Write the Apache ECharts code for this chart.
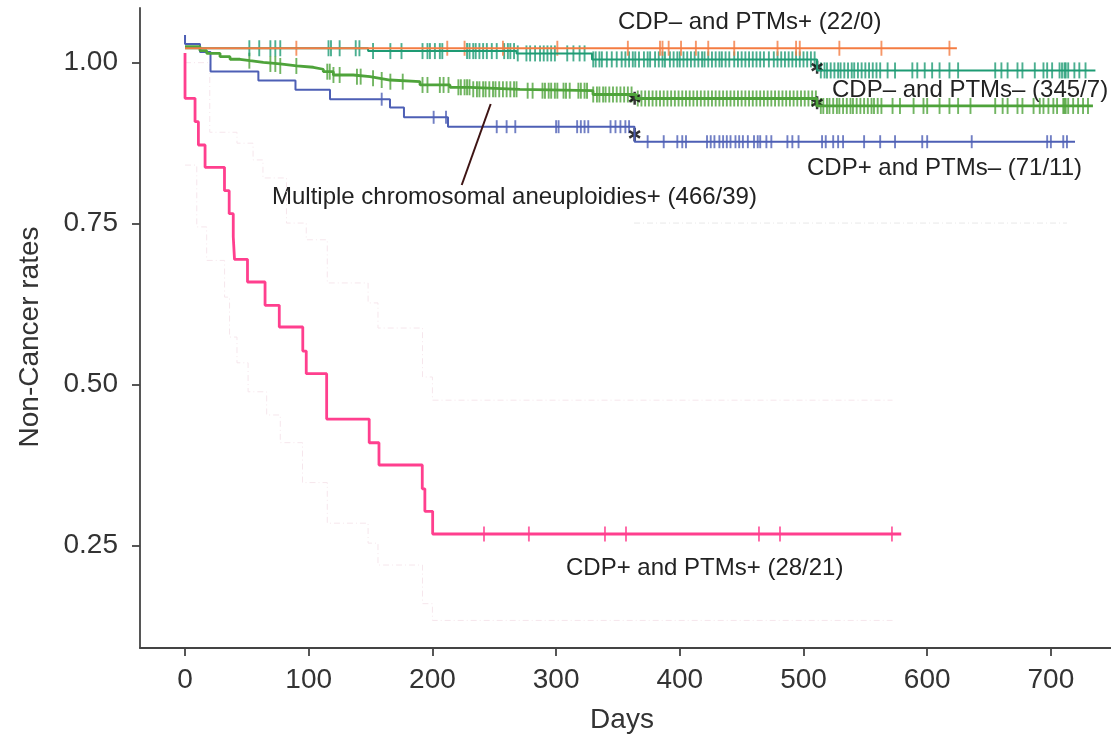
<!DOCTYPE html>
<html>
<head>
<meta charset="utf-8">
<title>Non-Cancer rates</title>
<script src="https://cdn.jsdelivr.net/npm/echarts@6/dist/echarts.min.js"></script>
<style>
  html, body { margin: 0; padding: 0; background: #fff; }
  #chart { width: 1111px; height: 739px; }
</style>
</head>
<body>
<div id="chart"></div>
<script>
// axis ticks
var dayTicks = [0, 100, 200, 300, 400, 500, 600, 700];
var rateTicks = [0.25, 0.5, 0.75, 1.0];

// Kaplan-Meier steps, [day, rate]; each rate holds from its day on
var pinkSteps = [[0, 1.0151], [0, 0.9447], [8.1, 0.9084], [10.8, 0.8722], [16.2, 0.8376], [31.9, 0.8012],
  [35.7, 0.7655], [39, 0.7298], [40, 0.6947], [50.5, 0.6595], [64.7, 0.6233], [76.2, 0.5896],
  [95.2, 0.5523], [98, 0.5171], [114.5, 0.4467], [148.9, 0.4099], [156.8, 0.3753], [191.8, 0.3384],
  [193.9, 0.3034], [200.2, 0.2682], [579, 0.2682]];
var blueSteps = [[0, 1.043], [0, 1.029], [12.1, 1.0166], [20.6, 0.9863], [59.3, 0.9724], [89.3, 0.9581],
  [117.2, 0.9433], [165.7, 0.9304], [177, 0.9152], [212.6, 0.9006], [363.4, 0.8773], [719.5, 0.8773]];
var greenSteps = [[0, 1.0248], [12.1, 1.0186], [17.5, 1.0146], [28.3, 1.0093], [36.4, 1.0053], [44.5, 1.0031],
  [52.5, 1.0006], [63.3, 0.998], [76.8, 0.9949], [90.3, 0.9929], [103.7, 0.9898], [111.8, 0.986],
  [119.9, 0.9809], [136, 0.9783], [149.6, 0.9758], [157.6, 0.9731], [165.7, 0.9705], [190, 0.9654],
  [214.2, 0.9618], [230.4, 0.9587], [270.8, 0.9565], [329.8, 0.9506], [364.6, 0.9444], [510.9, 0.9328],
  [734, 0.9328]];
var tealSteps = [[0, 1.0224], [148, 1.018], [268, 1.0144], [329, 1.0051], [511, 0.988], [736, 0.988]];
var orangeSteps = [[0, 1.0224], [624, 1.0224]];

// censored observations (days)
var pinkCensor = [241.7, 278, 339.5, 356.5, 464, 481, 571.5];
var blueCensor = [159, 201, 211, 252, 260, 267, 300, 302, 317, 320, 323, 326, 344, 348, 352, 356, 359, 374,
  387, 398, 402, 405, 422, 425, 428, 432, 435, 438, 441, 445, 448, 451, 455, 460, 463, 465, 470, 474, 487,
  491, 496, 515, 518, 524, 528, 532, 549, 562, 574, 596, 600, 636, 697, 700, 710, 713];
var orangeCensor = [90, 212, 226, 257, 301, 358, 384, 386, 391, 401, 413, 423, 444, 479, 494, 497, 529, 563, 618];
var tealCensor = [52, 60, 69, 73, 77, 116, 118, 125, 138, 141, 152, 166, 175, 192, 196, 198, 202, 206, 208,
  228, 230, 233, 235, 238, 241, 244, 248, 252, 258, 261, 263, 266, 269, 276, 279, 283, 287, 290, 293, 296,
  299, 309, 314, 319, 323, 330, 332, 335, 337, 341, 345, 349, 353, 356, 359, 362, 364, 367, 371, 374, 376,
  380, 383, 386, 388, 392, 395, 398, 400, 403, 406, 409, 412, 415, 418, 420, 423, 426, 429, 432, 434, 437,
  440, 444, 447, 450, 453, 456, 459, 462, 465, 468, 472, 476, 479, 482, 485, 488, 491, 494, 497, 500, 503,
  506, 509, 514, 517, 519, 522, 525, 528, 530, 533, 536, 539, 541, 544, 547, 550, 553, 556, 559, 562, 568,
  574, 588, 592, 598, 604, 610, 618, 625, 655, 660, 665, 673, 677, 687, 694, 697, 701, 707, 709, 711, 712,
  714, 719, 723, 728];
var greenCensor = [52, 69, 73, 77, 90, 115, 117, 120, 125, 139, 142, 152, 159, 166, 176, 192, 196, 206, 209,
  213, 221, 223, 226, 228, 230, 233, 236, 238, 241, 243, 246, 249, 251, 254, 257, 260, 263, 266, 268, 277,
  281, 289, 291, 294, 296, 299, 301, 306, 308, 311, 318, 320, 323, 325, 330, 333, 335, 338, 340, 343, 346,
  349, 352, 355, 358, 361, 366, 369, 372, 375, 378, 381, 384, 387, 390, 393, 396, 399, 402, 405, 408, 411,
  414, 417, 420, 423, 426, 429, 432, 435, 438, 441, 444, 447, 450, 453, 456, 459, 462, 465, 468, 471, 474,
  477, 480, 483, 486, 489, 492, 495, 498, 501, 504, 507, 510, 514, 516, 519, 521, 524, 527, 529, 532, 535,
  538, 540, 543, 546, 549, 552, 555, 557, 560, 563, 572, 578, 589, 597, 600, 610, 618, 625, 635, 655, 661,
  665, 673, 677, 686, 691, 694, 698, 702, 705, 710, 711, 712, 714, 718, 722, 726, 730];

// faint confidence bands
var pinkUpper = [[0, 1.0], [20, 0.892], [42, 0.875], [55, 0.849], [63, 0.821], [82, 0.751], [98, 0.725],
  [115, 0.658], [148, 0.627], [156, 0.588], [192, 0.512], [200, 0.476], [572, 0.476]];
var pinkLower = [[0, 0.841], [9.5, 0.745], [17.5, 0.693], [32, 0.636], [36, 0.574], [42, 0.534], [51, 0.489],
  [66, 0.453], [77, 0.41], [95, 0.348], [115, 0.285], [148, 0.254], [156, 0.22], [192, 0.16], [200, 0.134],
  [572, 0.134]];
var blueLower = [[363, 0.751], [713, 0.751]];

// asterisks at the marked steps, [day, rate]
var stars = [[511, 0.993], [363.5, 0.9447], [511, 0.9379], [363.5, 0.8885]];
// leader from the aneuploidies label to its curve
var leader = [[223.7, 0.8101], [247.1, 0.9359]];

var FONT = '"Liberation Sans", Arial, Helvetica, sans-serif';
var STAR = 'path://M-1.2,-6L1.2,-6L1.2,6L-1.2,6ZM4.596,-4.039L5.796,-1.961L-4.596,4.039L-5.796,1.961Z' +
  'M5.796,1.961L4.596,4.039L-5.796,-1.961L-4.596,-4.039Z';

function levelAt(steps, d) {
  var v = steps[0][1];
  for (var i = 0; i < steps.length; i++) {
    if (steps[i][0] <= d) v = steps[i][1];
  }
  return v;
}

function curve(steps, color, width) {
  return {
    type: 'line', step: 'end', data: steps, showSymbol: false, silent: true,
    lineStyle: { color: color, width: width }
  };
}

function censor(days, steps, color, h) {
  return {
    type: 'scatter', silent: true, symbol: 'rect', symbolSize: [1.9, h],
    itemStyle: { color: color },
    data: days.map(function (d) { return [d, levelAt(steps, d)]; })
  };
}

function band(steps, color) {
  return {
    type: 'line', step: 'end', data: steps, showSymbol: false, silent: true,
    lineStyle: { color: color, width: 1, type: [6, 3, 1, 3] }
  };
}

function note(text, x, y) {
  return {
    type: 'text', x: x, y: y, silent: true,
    style: { text: text, font: '24px ' + FONT, fill: '#222', verticalAlign: 'middle' }
  };
}

var chart = echarts.init(document.getElementById('chart'));

chart.setOption({
  backgroundColor: '#fff',
  animation: false,
  textStyle: { fontFamily: FONT },
  grid: { left: 140, right: 0, top: 8, bottom: 91, containLabel: false },
  xAxis: {
    type: 'value', min: -36.4, max: 748.6,
    axisLine: { show: true, onZero: false, lineStyle: { color: '#444', width: 1.8 } },
    axisTick: { show: true, customValues: dayTicks, length: 8, lineStyle: { color: '#444', width: 1.8 } },
    axisLabel: { customValues: dayTicks, fontSize: 28, color: '#333', margin: 18 },
    splitLine: { show: false }
  },
  yAxis: {
    type: 'value', min: 0.0912, max: 1.0849,
    axisLine: { show: true, onZero: false, lineStyle: { color: '#444', width: 1.8 } },
    axisTick: { show: true, customValues: rateTicks, length: 8, lineStyle: { color: '#444', width: 1.8 } },
    axisLabel: {
      customValues: rateTicks, fontSize: 28, color: '#333', margin: 22,
      formatter: function (v) { return v.toFixed(2); }
    },
    splitLine: { show: false }
  },
  graphic: [
    note('CDP\u2013 and PTMs+ (22/0)', 618, 22),
    note('CDP\u2013 and PTMs\u2013 (345/7)', 832, 90),
    note('CDP+ and PTMs\u2013 (71/11)', 807, 168),
    note('Multiple chromosomal aneuploidies+ (466/39)', 272, 197),
    note('CDP+ and PTMs+ (28/21)', 566, 568),
    {
      type: 'text', x: 622, y: 720, silent: true,
      style: { text: 'Days', font: '28px ' + FONT, fill: '#333', align: 'center', verticalAlign: 'middle' }
    },
    {
      type: 'text', x: 30, y: 337, rotation: Math.PI / 2, silent: true,
      style: { text: 'Non-Cancer rates', font: '28px ' + FONT, fill: '#333', align: 'center', verticalAlign: 'middle' }
    }
  ],
  series: [
    band(pinkUpper, '#f6e6ec'),
    band(pinkLower, '#f6e6ec'),
    band(blueLower, '#e8e8e8'),
    curve(pinkSteps, '#ff3f8e', 2.8),
    censor(pinkCensor, pinkSteps, '#ff3f8e', 15),
    curve(blueSteps, '#4d5fb5', 2),
    censor(blueCensor, blueSteps, '#4d5fb5', 13),
    curve(greenSteps, '#4ea33a', 2.8),
    censor(greenCensor, greenSteps, '#4ea33a', 16),
    curve(tealSteps, '#1e9b74', 2),
    censor(tealCensor, tealSteps, '#1e9b74', 16),
    curve(orangeSteps, '#f47c42', 1.8),
    censor(orangeCensor, orangeSteps, '#f47c42', 15),
    {
      type: 'line', data: leader, showSymbol: false, silent: true,
      lineStyle: { color: '#3e1414', width: 2 }
    },
    {
      type: 'scatter', silent: true, symbol: STAR, symbolSize: [12, 13],
      itemStyle: { color: '#000' }, data: stars
    }
  ]
});
</script>
</body>
</html>
